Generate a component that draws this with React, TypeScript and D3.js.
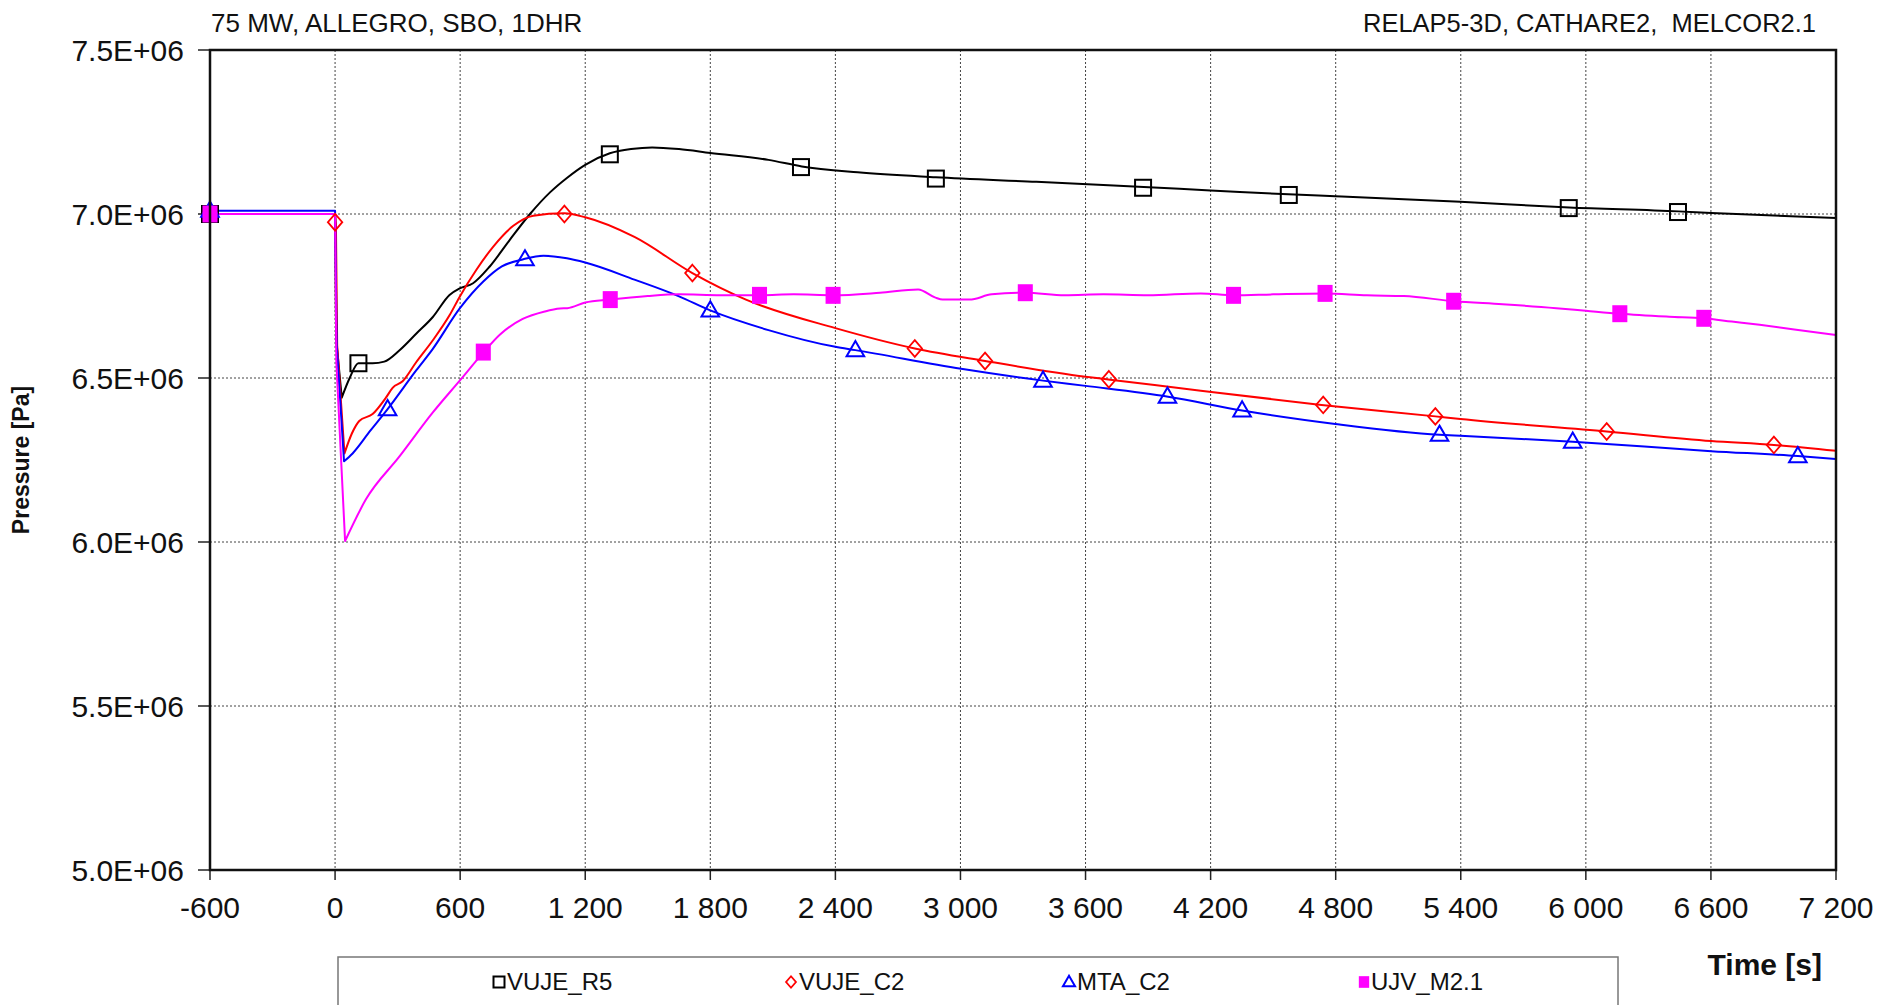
import React from 'react';
import * as d3 from 'd3';

// ---------- data ----------
const xTicks = [-600, 0, 600, 1200, 1800, 2400, 3000, 3600, 4200, 4800, 5400, 6000, 6600, 7200];
const xTickLabels = ['-600', '0', '600', '1 200', '1 800', '2 400', '3 000', '3 600', '4 200', '4 800', '5 400', '6 000', '6 600', '7 200'];
const yTicks = [5.0e6, 5.5e6, 6.0e6, 6.5e6, 7.0e6, 7.5e6];
const yTickLabels = ['5.0E+06', '5.5E+06', '6.0E+06', '6.5E+06', '7.0E+06', '7.5E+06'];

const seriesNames = ['VUJE_R5', 'VUJE_C2', 'MTA_C2', 'UJV_M2.1'];
const seriesColors = ['#000000', '#ff0000', '#0000ff', '#ff00ff'];
const seriesMarkers = ['square', 'diamond', 'triangle', 'filledSquare'];

const titleLeft = '75 MW, ALLEGRO, SBO, 1DHR';
const titleRight = 'RELAP5-3D, CATHARE2,  MELCOR2.1';
const yAxisTitle = 'Pressure [Pa]';
const xAxisTitle = 'Time [s]';

const vujeR5Line: [number, number][] = [
  [-600, 7.0e6], [0, 7.0e6], [5, 6.62e6], [32, 6.44e6], [70, 6.5e6], [112, 6.545e6], [180, 6.545e6],
  [236, 6.55e6], [308, 6.584e6], [389, 6.635e6], [469, 6.686e6], [549, 6.753e6], [598, 6.773e6],
  [662, 6.789e6], [742, 6.84e6], [839, 6.922e6], [935, 7.0e6], [1031, 7.066e6], [1112, 7.11e6],
  [1200, 7.15e6], [1318, 7.185e6], [1420, 7.198e6], [1521, 7.203e6], [1650, 7.198e6], [1800, 7.186e6],
  [2079, 7.165e6], [2239, 7.145e6], [2507, 7.127e6], [2882, 7.112e6], [3364, 7.098e6], [3879, 7.082e6],
  [4200, 7.072e6], [4573, 7.06e6], [4798, 7.054e6], [5398, 7.037e6], [5920, 7.02e6], [6444, 7.008e6],
  [6602, 7.003e6], [7200, 6.988e6],
];
const vujeR5Marks: [number, number][] = [
  [-600, 7.0e6], [112, 6.545e6], [1318, 7.182e6], [2235, 7.143e6], [2882, 7.108e6], [3876, 7.08e6],
  [4575, 7.058e6], [5918, 7.018e6], [6442, 7.006e6],
];

const vujeC2Line: [number, number][] = [
  [-600, 7.0e6], [0, 7.0e6], [4, 6.97e6], [10, 6.6e6], [45, 6.27e6], [80, 6.33e6], [116, 6.369e6],
  [180, 6.39e6], [244, 6.44e6], [276, 6.47e6], [324, 6.49e6], [389, 6.548e6], [469, 6.615e6],
  [549, 6.691e6], [598, 6.748e6], [678, 6.83e6], [758, 6.9e6], [855, 6.964e6], [951, 6.995e6],
  [1100, 7.002e6], [1200, 6.99e6], [1436, 6.93e6], [1714, 6.82e6], [1971, 6.739e6], [2400, 6.652e6],
  [2781, 6.59e6], [3118, 6.552e6], [3600, 6.504e6], [3718, 6.495e6], [4153, 6.461e6], [4732, 6.418e6],
  [5278, 6.383e6], [5398, 6.375e6], [6100, 6.337e6], [6602, 6.308e6], [6902, 6.296e6], [7200, 6.278e6],
];
const vujeC2Marks: [number, number][] = [
  [-600, 7.0e6], [0, 6.975e6], [1100, 7.0e6], [1714, 6.82e6], [2781, 6.59e6], [3118, 6.552e6],
  [3712, 6.496e6], [4740, 6.418e6], [5278, 6.383e6], [6100, 6.337e6], [6902, 6.296e6],
];

const mtaC2Line: [number, number][] = [
  [-600, 7.01e6], [0, 7.01e6], [8, 6.6e6], [43, 6.246e6], [84, 6.27e6], [170, 6.34e6], [252, 6.405e6],
  [389, 6.523e6], [469, 6.589e6], [598, 6.712e6], [711, 6.794e6], [800, 6.84e6], [903, 6.862e6],
  [1000, 6.873e6], [1112, 6.865e6], [1200, 6.852e6], [1436, 6.8e6], [1650, 6.749e6], [1800, 6.706e6],
  [2079, 6.646e6], [2400, 6.595e6], [2496, 6.585e6], [3003, 6.528e6], [3396, 6.492e6], [3600, 6.476e6],
  [3996, 6.443e6], [4351, 6.401e6], [4798, 6.36e6], [5298, 6.327e6], [5398, 6.324e6], [5937, 6.306e6],
  [6602, 6.277e6], [7017, 6.262e6], [7200, 6.253e6],
];
const mtaC2Marks: [number, number][] = [
  [-600, 7.01e6], [252, 6.405e6], [911, 6.862e6], [1800, 6.706e6], [2496, 6.585e6], [3396, 6.492e6],
  [3993, 6.443e6], [4351, 6.401e6], [5298, 6.327e6], [5937, 6.306e6], [7017, 6.262e6],
];

const ujvM21Line: [number, number][] = [
  [-600, 7.0e6], [0, 7.0e6], [6, 6.55e6], [48, 6.003e6], [148, 6.13e6], [308, 6.26e6], [469, 6.395e6],
  [598, 6.492e6], [713, 6.579e6], [790, 6.632e6], [900, 6.68e6], [1007, 6.703e6], [1079, 6.712e6],
  [1114, 6.713e6], [1200, 6.73e6], [1318, 6.739e6], [1500, 6.75e6], [1650, 6.755e6], [1850, 6.752e6],
  [2036, 6.752e6], [2200, 6.755e6], [2389, 6.752e6], [2614, 6.76e6], [2797, 6.77e6], [2880, 6.745e6],
  [2914, 6.739e6], [3043, 6.739e6], [3150, 6.755e6], [3311, 6.76e6], [3500, 6.752e6], [3686, 6.755e6],
  [3900, 6.752e6], [4153, 6.758e6], [4310, 6.752e6], [4500, 6.755e6], [4749, 6.758e6], [4950, 6.752e6],
  [5127, 6.75e6], [5366, 6.734e6], [5600, 6.725e6], [5858, 6.713e6], [6000, 6.705e6], [6163, 6.696e6],
  [6400, 6.687e6], [6566, 6.682e6], [6700, 6.672e6], [6834, 6.662e6], [7000, 6.648e6], [7200, 6.631e6],
];
const ujvM21Marks: [number, number][] = [
  [-600, 7.0e6], [711, 6.579e6], [1320, 6.739e6], [2036, 6.752e6], [2389, 6.752e6], [3311, 6.76e6],
  [4310, 6.752e6], [4749, 6.758e6], [5366, 6.734e6], [6163, 6.696e6], [6566, 6.682e6],
];

const seriesLines = [vujeR5Line, vujeC2Line, mtaC2Line, ujvM21Line];
const seriesMarks = [vujeR5Marks, vujeC2Marks, mtaC2Marks, ujvM21Marks];

// ---------- layout ----------
const W = 1894;
const H = 1005;
const PL = 210, PR = 1836, PT = 50, PB = 870;
const FONT = '"Liberation Sans", Arial, Helvetica, sans-serif';

function Marker({ kind, x, y, color, s }: { kind: string; x: number; y: number; color: string; s: number }) {
  if (kind === 'square') {
    return <rect x={x - s / 2} y={y - s / 2} width={s} height={s} fill="none" stroke={color} strokeWidth={2} />;
  }
  if (kind === 'diamond') {
    const hw = s * 0.45, hh = s * 0.52;
    return <path d={`M${x},${y - hh}L${x + hw},${y}L${x},${y + hh}L${x - hw},${y}Z`} fill="none" stroke={color} strokeWidth={1.8} />;
  }
  if (kind === 'triangle') {
    const hw = s * 0.55, h = s * 0.95;
    return <path d={`M${x},${y - h * 0.6}L${x + hw},${y + h * 0.4}L${x - hw},${y + h * 0.4}Z`} fill="none" stroke={color} strokeWidth={2} />;
  }
  return <rect x={x - s * 0.47} y={y - s * 0.53} width={s * 0.94} height={s * 1.06} fill={color} stroke="none" />;
}

export default function App() {
  const x = d3.scaleLinear().domain([-600, 7200]).range([PL, PR]);
  const y = d3.scaleLinear().domain([5.0e6, 7.5e6]).range([PB, PT]);
  const linLine = d3.line<[number, number]>().x(d => x(d[0])).y(d => y(d[1])).curve(d3.curveLinear);
  const smoothLine = d3.line<[number, number]>().x(d => x(d[0])).y(d => y(d[1])).curve(d3.curveMonotoneX);

  // sharp transient drop drawn straight, the rest smoothed
  const pathFor = (data: [number, number][]) => {
    const early = data.filter(d => d[0] < 200);
    const minP = d3.min(early, d => d[1]) as number;
    const k = data.findIndex(d => d[1] === minP);
    const a = linLine(data.slice(0, k + 1)) || '';
    const b = smoothLine(data.slice(k)) || '';
    return a + b.replace(/^M/, 'L');
  };

  const legendItems = [
    { mx: 499, tx: 507 },
    { mx: 791, tx: 799 },
    { mx: 1069, tx: 1077 },
    { mx: 1364, tx: 1371 },
  ];

  return (
    <div style={{ position: 'absolute', left: 0, top: 0, width: W, height: H, overflow: 'hidden', background: '#fff' }}>
      <svg width={W} height={H} style={{ display: 'block' }} fontFamily={FONT}>
        <rect x={0} y={0} width={W} height={H} fill="#fff" />
        {/* titles */}
        <text x={211} y={32} fontSize={26} fill="#111" style={{ whiteSpace: 'pre' }}>{titleLeft}</text>
        <text x={1816} y={32} fontSize={25.5} fill="#111" textAnchor="end" style={{ whiteSpace: 'pre' }}>{titleRight}</text>

        {/* grid */}
        {xTicks.filter((t, i) => i > 0 && i < xTicks.length - 1).map(t => (
          <line key={'gx' + t} x1={x(t)} x2={x(t)} y1={PT} y2={PB} stroke="#444" strokeWidth={1} strokeDasharray="2,2" />
        ))}
        {yTicks.filter((t, i) => i > 0 && i < yTicks.length - 1).map(t => (
          <line key={'gy' + t} x1={PL} x2={PR} y1={y(t)} y2={y(t)} stroke="#444" strokeWidth={1} strokeDasharray="2,2" />
        ))}

        {/* ticks */}
        {yTicks.map((t, i) => (
          <g key={'yt' + t}>
            <line x1={PL - 12} x2={PL} y1={y(t)} y2={y(t)} stroke="#222" strokeWidth={1.5} />
            <text x={184} y={y(t)} dy="0.36em" textAnchor="end" fontSize={30} fill="#111">{yTickLabels[i]}</text>
          </g>
        ))}
        {xTicks.map((t, i) => (
          <g key={'xt' + t}>
            <line x1={x(t)} x2={x(t)} y1={PB} y2={PB + 10} stroke="#222" strokeWidth={1.5} />
            <text x={x(t)} y={918} textAnchor="middle" fontSize={30} fill="#111" style={{ whiteSpace: 'pre' }}>{xTickLabels[i]}</text>
          </g>
        ))}

        {/* series lines and markers */}
        {seriesLines.map((data, i) => (
          <path key={'l' + i} d={pathFor(data)} fill="none" stroke={seriesColors[i]} strokeWidth={2} strokeLinejoin="round" />
        ))}
        {seriesMarks.map((marks, i) => (
          <g key={'m' + i}>
            {marks.map((p, j) => (
              <Marker key={j} kind={seriesMarkers[i]} x={x(p[0])} y={y(p[1])} color={seriesColors[i]} s={16} />
            ))}
          </g>
        ))}

        {/* frame */}
        <rect x={PL} y={PT} width={PR - PL} height={PB - PT} fill="none" stroke="#111" strokeWidth={2.5} />

        {/* axis titles */}
        <text transform={`translate(29,460) rotate(-90)`} textAnchor="middle" fontSize={23} fontWeight="bold" fill="#111">{yAxisTitle}</text>
        <text x={1822} y={975} textAnchor="end" fontSize={30} fontWeight="bold" fill="#111">{xAxisTitle}</text>

        {/* legend */}
        <rect x={338} y={957} width={1618 - 338} height={60} fill="#fff" stroke="#777" strokeWidth={1.5} />
        {legendItems.map((it, i) => (
          <g key={'lg' + i}>
            <Marker kind={seriesMarkers[i]} x={it.mx} y={982} color={seriesColors[i]} s={11} />
            <text x={it.tx} y={990} fontSize={24} fill="#111">{seriesNames[i]}</text>
          </g>
        ))}
      </svg>
    </div>
  );
}
